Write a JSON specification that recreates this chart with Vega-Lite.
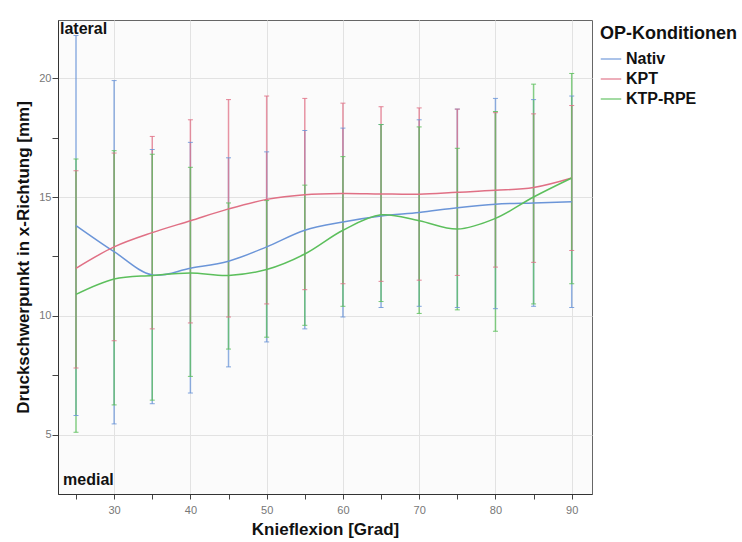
{
  "$schema": "https://vega.github.io/schema/vega-lite/v6.json",
  "width": 534,
  "height": 474,
  "autosize": "none",
  "padding": {"left": 58, "top": 20, "right": 150, "bottom": 48},
  "background": "#ffffff",
  "config": {
    "font": "Liberation Sans",
    "view": {"fill": "#fbfbfb", "stroke": "#666666", "strokeWidth": 1},
    "axis": {
      "domainColor": "#333333",
      "tickColor": "#444444",
      "gridColor": "#e2e2e2",
      "labelColor": "#777777",
      "labelFont": "Liberation Sans",
      "labelFontSize": 11,
      "titleFont": "Liberation Sans",
      "titleFontSize": 17,
      "titleFontWeight": "bold",
      "titleColor": "#111111"
    },
    "legend": {
      "titleFont": "Liberation Sans",
      "titleFontSize": 18,
      "titleFontWeight": "bold",
      "titleColor": "#111111",
      "labelFont": "Liberation Sans",
      "labelFontSize": 16,
      "labelFontWeight": "bold",
      "labelColor": "#111111"
    }
  },
  "datasets": {
    "messung": [
      {"grad": 25, "kondition": "Nativ", "mittel": 13.8, "unten": 5.8, "oben": 21.8},
      {"grad": 30, "kondition": "Nativ", "mittel": 12.7, "unten": 5.45, "oben": 19.9},
      {"grad": 35, "kondition": "Nativ", "mittel": 11.72, "unten": 6.3, "oben": 17.0},
      {"grad": 40, "kondition": "Nativ", "mittel": 12.0, "unten": 6.75, "oben": 17.3},
      {"grad": 45, "kondition": "Nativ", "mittel": 12.3, "unten": 7.85, "oben": 16.65},
      {"grad": 50, "kondition": "Nativ", "mittel": 12.9, "unten": 8.9, "oben": 16.9},
      {"grad": 55, "kondition": "Nativ", "mittel": 13.6, "unten": 9.45, "oben": 17.8},
      {"grad": 60, "kondition": "Nativ", "mittel": 13.95, "unten": 9.95, "oben": 17.9},
      {"grad": 65, "kondition": "Nativ", "mittel": 14.2, "unten": 10.35, "oben": 18.05},
      {"grad": 70, "kondition": "Nativ", "mittel": 14.35, "unten": 10.4, "oben": 18.25},
      {"grad": 75, "kondition": "Nativ", "mittel": 14.55, "unten": 10.35, "oben": 18.7},
      {"grad": 80, "kondition": "Nativ", "mittel": 14.7, "unten": 10.3, "oben": 19.15},
      {"grad": 85, "kondition": "Nativ", "mittel": 14.75, "unten": 10.4, "oben": 19.1},
      {"grad": 90, "kondition": "Nativ", "mittel": 14.8, "unten": 10.35, "oben": 19.25},
      {"grad": 25, "kondition": "KPT", "mittel": 12.0, "unten": 7.8, "oben": 16.1},
      {"grad": 30, "kondition": "KPT", "mittel": 12.9, "unten": 8.95, "oben": 16.85},
      {"grad": 35, "kondition": "KPT", "mittel": 13.5, "unten": 9.45, "oben": 17.55},
      {"grad": 40, "kondition": "KPT", "mittel": 14.0, "unten": 9.7, "oben": 18.25},
      {"grad": 45, "kondition": "KPT", "mittel": 14.5, "unten": 9.95, "oben": 19.1},
      {"grad": 50, "kondition": "KPT", "mittel": 14.9, "unten": 10.5, "oben": 19.25},
      {"grad": 55, "kondition": "KPT", "mittel": 15.1, "unten": 11.1, "oben": 19.15},
      {"grad": 60, "kondition": "KPT", "mittel": 15.15, "unten": 11.35, "oben": 18.95},
      {"grad": 65, "kondition": "KPT", "mittel": 15.13, "unten": 11.45, "oben": 18.8},
      {"grad": 70, "kondition": "KPT", "mittel": 15.12, "unten": 11.5, "oben": 18.75},
      {"grad": 75, "kondition": "KPT", "mittel": 15.2, "unten": 11.7, "oben": 18.7},
      {"grad": 80, "kondition": "KPT", "mittel": 15.28, "unten": 12.05, "oben": 18.55},
      {"grad": 85, "kondition": "KPT", "mittel": 15.4, "unten": 12.25, "oben": 18.5},
      {"grad": 90, "kondition": "KPT", "mittel": 15.8, "unten": 12.75, "oben": 18.85},
      {"grad": 25, "kondition": "KTP-RPE", "mittel": 10.9, "unten": 5.1, "oben": 16.6},
      {"grad": 30, "kondition": "KTP-RPE", "mittel": 11.55, "unten": 6.25, "oben": 16.95},
      {"grad": 35, "kondition": "KTP-RPE", "mittel": 11.7, "unten": 6.45, "oben": 16.8},
      {"grad": 40, "kondition": "KTP-RPE", "mittel": 11.8, "unten": 7.45, "oben": 16.25},
      {"grad": 45, "kondition": "KTP-RPE", "mittel": 11.7, "unten": 8.6, "oben": 14.75},
      {"grad": 50, "kondition": "KTP-RPE", "mittel": 11.95, "unten": 9.1, "oben": 14.85},
      {"grad": 55, "kondition": "KTP-RPE", "mittel": 12.6, "unten": 9.6, "oben": 15.5},
      {"grad": 60, "kondition": "KTP-RPE", "mittel": 13.6, "unten": 10.4, "oben": 16.7},
      {"grad": 65, "kondition": "KTP-RPE", "mittel": 14.25, "unten": 10.6, "oben": 18.05},
      {"grad": 70, "kondition": "KTP-RPE", "mittel": 14.0, "unten": 10.1, "oben": 17.95},
      {"grad": 75, "kondition": "KTP-RPE", "mittel": 13.65, "unten": 10.25, "oben": 17.05},
      {"grad": 80, "kondition": "KTP-RPE", "mittel": 14.1, "unten": 9.35, "oben": 18.6},
      {"grad": 85, "kondition": "KTP-RPE", "mittel": 15.0, "unten": 10.5, "oben": 19.75},
      {"grad": 90, "kondition": "KTP-RPE", "mittel": 15.8, "unten": 11.35, "oben": 20.2}
    ],
    "seiten": [
      {"seite": "lateral"},
      {"seite": "medial"}
    ]
  },
  "layer": [
    {
      "data": {"name": "messung"},
      "encoding": {
        "x": {
          "field": "grad",
          "type": "quantitative",
          "title": "Knieflexion [Grad]",
          "scale": {"domain": [22.64, 92.66], "nice": false, "zero": false},
          "axis": {
            "values": [25, 30, 35, 40, 45, 50, 55, 60, 65, 70, 75, 80, 85, 90],
            "labelExpr": "datum.value % 10 === 0 ? datum.label : ''",
            "gridOpacity": {"condition": {"test": "datum.value % 10 !== 0", "value": 0}, "value": 1},
            "tickSize": 5,
            "labelPadding": 5,
            "titlePadding": 6
          }
        },
        "color": {
          "field": "kondition",
          "type": "nominal",
          "title": "OP-Konditionen",
          "sort": ["Nativ", "KPT", "KTP-RPE"],
          "scale": {"domain": ["Nativ", "KPT", "KTP-RPE"], "range": ["#6b95d8", "#e07085", "#5cbf5c"]},
          "legend": {
            "orient": "right",
            "offset": 3,
            "padding": 5,
            "symbolType": "stroke",
            "symbolSize": 420,
            "symbolStrokeWidth": 1.5,
            "titlePadding": 5,
            "rowPadding": 1
          }
        }
      },
      "layer": [
        {
          "mark": {"type": "rule", "strokeWidth": 1.5, "opacity": 0.75},
          "encoding": {
            "y": {
              "field": "unten",
              "type": "quantitative",
              "title": "Druckschwerpunkt in x-Richtung [mm]",
              "scale": {"domain": [2.5, 22.45], "nice": false, "zero": false},
              "axis": {
                "values": [5, 7.5, 10, 12.5, 15, 17.5, 20],
                "labelExpr": "datum.value % 5 === 0 ? datum.label : ''",
                "gridOpacity": {"condition": {"test": "datum.value % 5 !== 0", "value": 0}, "value": 1},
                "tickSize": 6,
                "labelPadding": 1,
                "titlePadding": 6
              }
            },
            "y2": {"field": "oben"}
          }
        },
        {
          "mark": {"type": "tick", "orient": "horizontal", "size": 5, "thickness": 1, "opacity": 0.85},
          "encoding": {"y": {"field": "unten", "type": "quantitative"}}
        },
        {
          "mark": {"type": "tick", "orient": "horizontal", "size": 5, "thickness": 1, "opacity": 0.85},
          "encoding": {"y": {"field": "oben", "type": "quantitative"}}
        },
        {
          "mark": {"type": "line", "interpolate": "catmull-rom", "strokeWidth": 1.5},
          "encoding": {"y": {"field": "mittel", "type": "quantitative"}}
        }
      ]
    },
    {
      "data": {"name": "seiten"},
      "transform": [{"filter": "datum.seite === 'lateral'"}],
      "mark": {"type": "text", "align": "left", "baseline": "top", "fontSize": 16, "fontWeight": "bold", "fill": "#111111"},
      "encoding": {
        "x": {"datum": 22.9, "type": "quantitative"},
        "y": {"datum": 22.42, "type": "quantitative"},
        "text": {"field": "seite", "type": "nominal"}
      }
    },
    {
      "data": {"name": "seiten"},
      "transform": [{"filter": "datum.seite === 'medial'"}],
      "mark": {"type": "text", "align": "left", "baseline": "middle", "fontSize": 16, "fontWeight": "bold", "fill": "#111111"},
      "encoding": {
        "x": {"datum": 23.3, "type": "quantitative"},
        "y": {"datum": 3.1, "type": "quantitative"},
        "text": {"field": "seite", "type": "nominal"}
      }
    }
  ]
}
